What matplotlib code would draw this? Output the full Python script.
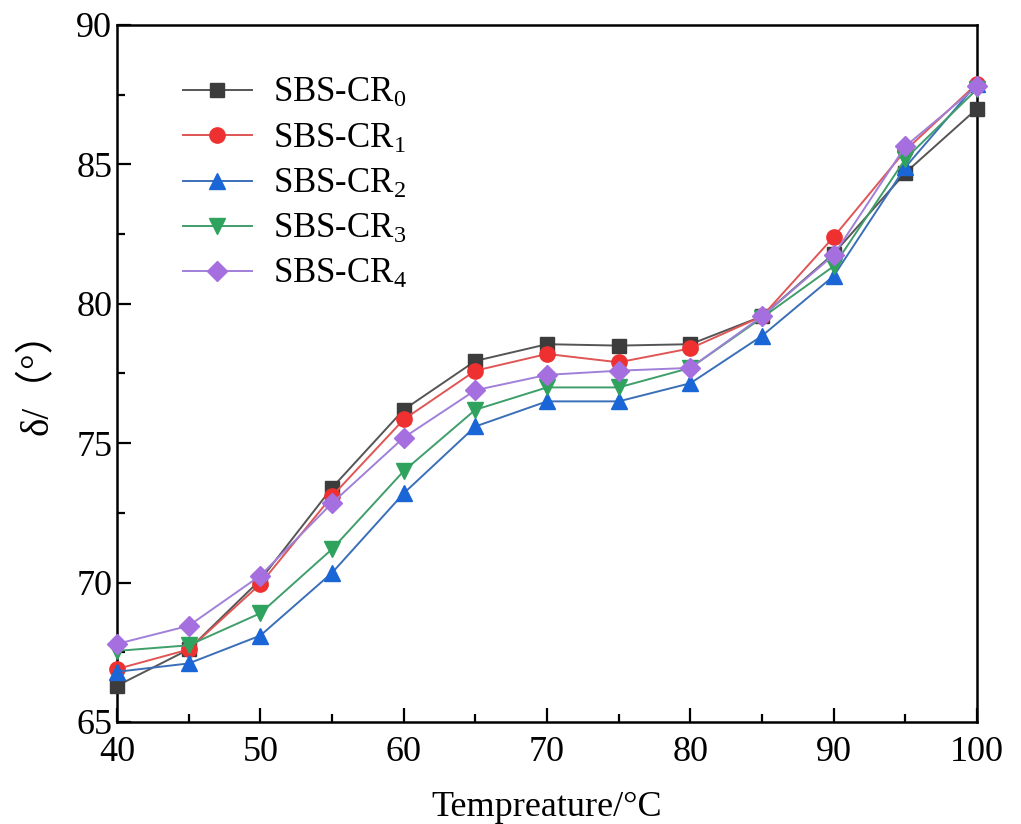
import matplotlib
matplotlib.use("Agg")
import matplotlib.pyplot as plt
from matplotlib.ticker import MultipleLocator

plt.rcParams['font.family'] = ['Liberation Serif', 'Noto Sans CJK SC', 'DejaVu Sans']
plt.rcParams['mathtext.fontset'] = 'custom'
plt.rcParams['mathtext.rm'] = 'Liberation Serif'
plt.rcParams['mathtext.it'] = 'Liberation Serif'

temperature = [40, 45, 50, 55, 60, 65, 70, 75, 80, 85, 90, 95, 100]
cr0 = [66.3, 67.6, 70.1, 73.4, 76.2, 77.95, 78.55, 78.5, 78.55, 79.55, 81.8, 84.7, 87.0]
cr1 = [66.9, 67.6, 69.95, 73.1, 75.85, 77.6, 78.2, 77.9, 78.4, 79.55, 82.4, 85.5, 87.9]
cr2 = [66.8, 67.1, 68.1, 70.35, 73.2, 75.6, 76.5, 76.5, 77.15, 78.85, 81.0, 84.9, 87.9]
cr3 = [67.55, 67.75, 68.9, 71.2, 74.0, 76.2, 77.0, 77.0, 77.7, 79.5, 81.35, 85.2, 87.7]
cr4 = [67.8, 68.45, 70.25, 72.85, 75.2, 76.9, 77.45, 77.6, 77.7, 79.55, 81.75, 85.65, 87.8]

labels = [r'SBS-CR$_\mathregular{0}$', r'SBS-CR$_\mathregular{1}$', r'SBS-CR$_\mathregular{2}$',
          r'SBS-CR$_\mathregular{3}$', r'SBS-CR$_\mathregular{4}$']
series = [cr0, cr1, cr2, cr3, cr4]
marker_colors = ['#3c3c3c', '#ee3030', '#1a66d6', '#2fa35e', '#a66fe0']
line_colors = ['#555555', '#e05555', '#3a6fb8', '#3f9e6a', '#a080d8']
markers = ['s', 'o', '^', 'v', 'D']
msizes = [10, 11, 11, 11, 10]

fig = plt.figure(figsize=(10.21, 8.24), dpi=100)
ax = fig.add_axes([0.1146, 0.1238, 0.8424, 0.8459])

for y, lab, mc, lc, mk, ms in zip(series, labels, marker_colors, line_colors, markers, msizes):
    ax.plot(temperature, y, color=lc, lw=1.4, marker=mk, markersize=ms,
            markerfacecolor=mc, markeredgecolor=mc, label=lab, clip_on=False, zorder=3)

ax.set_xlim(40, 100)
ax.set_ylim(65, 90)
ax.xaxis.set_major_locator(MultipleLocator(10))
ax.xaxis.set_minor_locator(MultipleLocator(5))
ax.yaxis.set_major_locator(MultipleLocator(5))
ax.yaxis.set_minor_locator(MultipleLocator(2.5))
ax.tick_params(which='both', direction='in', top=False, right=False, labelsize=26, width=1.6)
ax.tick_params(which='major', length=10)
ax.tick_params(which='minor', length=6)
ax.tick_params(axis='x', pad=10)
for s in ax.spines.values():
    s.set_linewidth(1.8)

ax.set_xlabel('Tempreature/°C', fontsize=26, labelpad=16)
ax.set_ylabel('δ/（°）', fontsize=28, labelpad=14)

leg = ax.legend(loc='upper left', bbox_to_anchor=(0.04, 0.97), frameon=False, fontsize=25,
                handlelength=2.0, labelspacing=0.35, handletextpad=0.6)

fig.savefig('out.png', dpi=100)
